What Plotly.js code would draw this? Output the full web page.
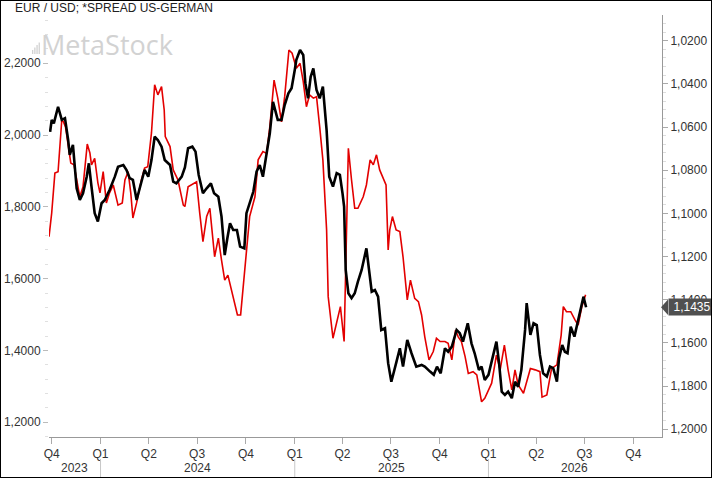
<!DOCTYPE html>
<html>
<head>
<meta charset="utf-8">
<script src="https://cdn.plot.ly/plotly-3.0.1.min.js"></script>
<style>
html,body{margin:0;padding:0;background:#fff;}
#wrap{position:relative;width:712px;height:478px;}
#chart{position:absolute;left:0;top:0;width:712px;height:478px;}
#frame{position:absolute;left:0;top:0;width:712px;height:478px;box-sizing:border-box;border:1px solid #000;pointer-events:none;}
</style>
</head>
<body>
<div id="wrap"><div id="chart"></div><div id="frame"></div></div>
<script>
// ---- DATA ----
const spreadDates = ["2023-09-26","2023-10-01","2023-10-07","2023-10-13","2023-10-20","2023-10-23","2023-10-27","2023-11-01","2023-11-06","2023-11-12","2023-11-17","2023-11-23","2023-11-29","2023-12-07","2023-12-12","2023-12-15","2023-12-21","2023-12-27","2023-12-31","2024-01-06","2024-01-12","2024-01-18","2024-01-25","2024-02-03","2024-02-11","2024-02-16","2024-02-22","2024-02-27","2024-03-02","2024-03-09","2024-03-18","2024-03-24","2024-03-30","2024-04-06","2024-04-12","2024-04-18","2024-04-25","2024-04-30","2024-05-02","2024-05-11","2024-05-17","2024-05-26","2024-06-05","2024-06-08","2024-06-14","2024-06-20","2024-06-30","2024-07-06","2024-07-12","2024-07-19","2024-07-25","2024-08-03","2024-08-10","2024-08-16","2024-08-22","2024-08-28","2024-09-07","2024-09-15","2024-09-21","2024-09-26","2024-10-02","2024-10-08","2024-10-18","2024-10-24","2024-11-02","2024-11-09","2024-11-15","2024-11-23","2024-11-30","2024-12-07","2024-12-13","2024-12-21","2024-12-27","2025-01-04","2025-01-11","2025-01-17","2025-01-23","2025-01-29","2025-02-05","2025-02-11","2025-02-17","2025-02-23","2025-03-02","2025-03-05","2025-03-14","2025-03-21","2025-03-28","2025-04-04","2025-04-07","2025-04-12","2025-04-18","2025-04-24","2025-04-30","2025-05-10","2025-05-16","2025-05-23","2025-05-29","2025-06-04","2025-06-10","2025-06-17","2025-06-22","2025-06-26","2025-06-29","2025-07-04","2025-07-11","2025-07-18","2025-07-24","2025-08-01","2025-08-07","2025-08-15","2025-08-22","2025-08-28","2025-09-03","2025-09-11","2025-09-19","2025-09-25","2025-10-02","2025-10-11","2025-10-17","2025-10-24","2025-10-31","2025-11-05","2025-11-11","2025-11-18","2025-11-24","2025-12-03","2025-12-10","2025-12-19","2025-12-25","2026-01-07","2026-01-16","2026-01-23","2026-01-31","2026-02-07","2026-02-14","2026-02-20","2026-02-26","2026-03-08","2026-03-21","2026-03-30","2026-04-08","2026-04-12","2026-04-21","2026-04-30","2026-05-10","2026-05-18","2026-05-22","2026-05-28","2026-06-05","2026-06-13","2026-06-19","2026-06-26","2026-07-03"];
const spreadValues = [1.717,1.783,1.894,1.898,2.042,2.037,2.023,1.978,1.922,1.917,1.875,1.828,1.856,1.975,1.950,1.917,1.935,1.867,1.839,1.898,1.811,1.839,1.861,1.805,1.811,1.875,1.898,1.839,1.769,1.811,1.875,1.908,1.912,2.006,2.140,2.112,2.135,2.070,1.996,1.968,1.903,1.875,1.805,1.801,1.856,1.861,1.870,1.782,1.703,1.773,1.796,1.661,1.713,1.652,1.596,1.610,1.550,1.499,1.499,1.578,1.689,1.773,1.828,1.931,1.954,1.949,2.023,2.153,2.103,2.037,2.107,2.237,2.228,2.186,2.200,2.149,2.079,2.112,2.103,2.107,2.023,1.931,1.736,1.550,1.434,1.480,1.522,1.425,1.644,1.963,1.875,1.796,1.796,1.828,1.861,1.931,1.917,1.945,1.903,1.880,1.861,1.680,1.736,1.773,1.736,1.731,1.661,1.541,1.596,1.545,1.536,1.499,1.438,1.374,1.397,1.434,1.425,1.425,1.420,1.374,1.457,1.438,1.425,1.383,1.336,1.341,1.332,1.257,1.267,1.309,1.387,1.346,1.415,1.346,1.290,1.346,1.304,1.281,1.350,1.346,1.341,1.270,1.276,1.350,1.360,1.443,1.522,1.508,1.508,1.485,1.471,1.522,1.555];

const eurusdDates = ["2023-09-28","2023-10-01","2023-10-05","2023-10-13","2023-10-20","2023-10-26","2023-11-01","2023-11-04","2023-11-10","2023-11-13","2023-11-17","2023-11-23","2023-11-29","2023-12-06","2023-12-10","2023-12-15","2023-12-21","2023-12-27","2024-01-03","2024-01-09","2024-01-18","2024-01-28","2024-02-03","2024-02-13","2024-02-19","2024-02-25","2024-03-02","2024-03-09","2024-03-18","2024-03-24","2024-03-31","2024-04-06","2024-04-12","2024-04-18","2024-04-25","2024-05-01","2024-05-11","2024-05-17","2024-05-23","2024-06-02","2024-06-08","2024-06-14","2024-06-22","2024-06-28","2024-07-04","2024-07-12","2024-07-19","2024-07-27","2024-08-02","2024-08-10","2024-08-16","2024-08-22","2024-08-27","2024-09-01","2024-09-07","2024-09-14","2024-09-20","2024-09-28","2024-10-02","2024-10-08","2024-10-15","2024-10-21","2024-10-27","2024-11-02","2024-11-09","2024-11-15","2024-11-21","2024-11-30","2024-12-07","2024-12-13","2024-12-20","2024-12-26","2025-01-01","2025-01-04","2025-01-11","2025-01-17","2025-01-21","2025-01-26","2025-01-31","2025-02-05","2025-02-11","2025-02-17","2025-02-23","2025-03-02","2025-03-07","2025-03-14","2025-03-21","2025-03-27","2025-04-01","2025-04-04","2025-04-07","2025-04-12","2025-04-18","2025-04-24","2025-04-30","2025-05-07","2025-05-16","2025-05-21","2025-05-26","2025-06-01","2025-06-07","2025-06-13","2025-06-20","2025-06-26","2025-07-02","2025-07-11","2025-07-18","2025-07-24","2025-08-01","2025-08-09","2025-08-18","2025-08-28","2025-09-03","2025-09-13","2025-09-20","2025-09-26","2025-10-03","2025-10-11","2025-10-17","2025-10-24","2025-11-02","2025-11-08","2025-11-14","2025-11-23","2025-11-30","2025-12-06","2025-12-14","2025-12-19","2025-12-25","2026-01-01","2026-01-08","2026-01-16","2026-01-21","2026-01-26","2026-02-01","2026-02-07","2026-02-14","2026-02-20","2026-02-26","2026-03-04","2026-03-11","2026-03-14","2026-03-21","2026-03-27","2026-04-02","2026-04-08","2026-04-14","2026-04-21","2026-04-27","2026-05-03","2026-05-10","2026-05-14","2026-05-20","2026-05-25","2026-05-30","2026-06-05","2026-06-12","2026-06-18","2026-06-26","2026-06-29","2026-07-04"];
const eurusdValues = [1.0622,1.0567,1.0583,1.0506,1.0567,1.0559,1.0660,1.0729,1.0683,1.0776,1.0884,1.0938,1.0907,1.0830,1.0768,1.0876,1.0999,1.1038,1.0953,1.0938,1.0892,1.0830,1.0784,1.0776,1.0799,1.0837,1.0845,1.0938,1.0861,1.0799,1.0830,1.0753,1.0645,1.0660,1.0691,1.0753,1.0776,1.0853,1.0861,1.0830,1.0787,1.0698,1.0691,1.0714,1.0822,1.0907,1.0884,1.0861,1.0907,1.0923,1.1015,1.1193,1.1115,1.1046,1.1077,1.1077,1.1154,1.1162,1.0999,1.0953,1.0899,1.0807,1.0776,1.0830,1.0729,1.0629,1.0483,1.0567,1.0567,1.0498,1.0444,1.0420,1.0336,1.0289,1.0243,1.0266,1.0397,1.0467,1.0367,1.0328,1.0428,1.0467,1.0413,1.0614,1.0830,1.0876,1.0814,1.0822,1.0907,1.0969,1.1262,1.1370,1.1393,1.1370,1.1316,1.1262,1.1162,1.1277,1.1363,1.1355,1.1386,1.1540,1.1532,1.1694,1.1780,1.1694,1.1625,1.1710,1.1586,1.1648,1.1710,1.1702,1.1710,1.1733,1.1748,1.1710,1.1741,1.1625,1.1641,1.1617,1.1540,1.1555,1.1594,1.1509,1.1602,1.1648,1.1725,1.1710,1.1772,1.1748,1.1671,1.1594,1.1694,1.1826,1.1841,1.1826,1.1856,1.1780,1.1803,1.1725,1.1540,1.1416,1.1563,1.1509,1.1517,1.1656,1.1741,1.1756,1.1710,1.1717,1.1780,1.1671,1.1610,1.1641,1.1648,1.1525,1.1571,1.1509,1.1416,1.1386,1.1435];

const quarterTicks = ["2023-10-01","2024-01-01","2024-04-01","2024-07-01","2024-10-01","2025-01-01","2025-04-01","2025-07-01","2025-10-01","2026-01-01","2026-04-01","2026-07-01","2026-10-01"];
const quarterLabels = ["Q4","Q1","Q2","Q3","Q4","Q1","Q2","Q3","Q4","Q1","Q2","Q3","Q4"];
const yearLabels = ["2023","2024","2025","2026"];
const yearStarts = ["2023-01-01","2024-01-01","2025-01-01","2026-01-01","2027-01-01"];
const titleText = "EUR / USD; *SPREAD US-GERMAN";
const lastLabel = "1,1435";

// ---- LAYOUT HELPERS ----
const W = 712, H = 478, L = 49, R = 662, T = 15, B = 437;
const PX = p => (p - L) / (R - L);
const PY = p => (B - p) / (B - T);
const xRange = ["2023-09-25 22:00", "2026-11-24"];
const FONT = "Arial, 'Liberation Sans', sans-serif";

const t0 = new Date(xRange[0].replace(" ", "T") + ":00Z").getTime();
const t1 = new Date(xRange[1] + "T00:00:00Z").getTime();
const ms = s => new Date(s + "T00:00:00Z").getTime();

const annotations = [];
const shapes = [];

// year labels centered on visible part of each year
yearLabels.forEach((yl, i) => {
  const a = Math.max(ms(yearStarts[i]), t0);
  const b = Math.min(ms(yearStarts[i + 1]), t1);
  const c = new Date((a + b) / 2).toISOString().slice(0, 10);
  annotations.push({x: c, xref: "x", y: PY(468), yref: "paper", text: yl, showarrow: false,
    xanchor: "center", yanchor: "middle", font: {family: FONT, size: 12, color: "#333"}});
});
// year separators
yearStarts.slice(1, 4).forEach(d => {
  shapes.push({type: "line", xref: "x", yref: "paper", x0: d, x1: d, y0: PY(459), y1: PY(478),
    line: {color: "#c8c8c8", width: 1}});
});

// watermark
annotations.push({x: PX(39), xref: "paper", y: PY(44), yref: "paper", text: "MetaStock", showarrow: false,
  xanchor: "left", yanchor: "middle", font: {family: "'Open Sans', sans-serif", size: 27, color: "#d2d2d2"}});
[[32, 50], [34.2, 47.5], [36.4, 45], [38.6, 42.5]].forEach(b => {
  shapes.push({type: "rect", xref: "paper", yref: "paper", x0: PX(b[0]), x1: PX(b[0] + 1.3),
    y0: PY(54), y1: PY(b[1]), fillcolor: "#d2d2d2", line: {width: 0}, layer: "below"});
});

// last value label on right axis
const lastVal = eurusdValues[eurusdValues.length - 1];
const halfH = 7.8 * (1.2036 - 1.0081) / (B - T);
annotations.push({x: 1, xref: "paper", xanchor: "left", xshift: 6, y: lastVal, yref: "y2", yanchor: "middle",
  text: lastLabel, showarrow: false, bgcolor: "#505050", borderpad: 1,
  font: {family: FONT, size: 12, color: "#fff"}, width: 44});
shapes.push({type: "path", xref: "paper", yref: "y2",
  path: `M ${PX(661)},${lastVal} L ${PX(668)},${lastVal - halfH} L ${PX(668)},${lastVal + halfH} Z`,
  fillcolor: "#505050", line: {width: 0}});

const traces = [
  {x: spreadDates, y: spreadValues, type: "scatter", mode: "lines", yaxis: "y",
   line: {color: "#e30000", width: 1.6}, hoverinfo: "skip"},
  {x: eurusdDates, y: eurusdValues, type: "scatter", mode: "lines", yaxis: "y2",
   line: {color: "#000", width: 2.6}, hoverinfo: "skip"}
];

const layout = {
  width: W, height: H,
  margin: {l: L, r: W - R, t: T, b: H - B, pad: 0},
  paper_bgcolor: "#fff", plot_bgcolor: "#fff",
  separators: ",.",
  showlegend: false,
  font: {family: FONT, size: 12, color: "#333"},
  title: {text: titleText, x: 15 / W, xref: "container", xanchor: "left",
    y: 1 - 8 / H, yref: "container", yanchor: "middle", pad: {t: 0, b: 0, l: 0, r: 0},
    font: {family: FONT, size: 12, color: "#222"}},
  xaxis: {type: "date", range: xRange, tickmode: "array", tickvals: quarterTicks, ticktext: quarterLabels,
    ticks: "outside", ticklen: 6, tickcolor: "#aaa", showline: true, linecolor: "#999", linewidth: 1,
    showgrid: false, zeroline: false, tickfont: {family: FONT, size: 12, color: "#333"}},
  yaxis: {range: [1.159, 2.3345], dtick: 0.2, tick0: 0, tickformat: ".4f", ticks: "outside", ticklen: 5,
    tickcolor: "#bbb", showline: false, showgrid: false, zeroline: false,
    minor: {dtick: 0.04, ticks: "outside", ticklen: 3, tickcolor: "#e0e0e0"},
    tickfont: {family: FONT, size: 12, color: "#333"}},
  yaxis2: {overlaying: "y", side: "right", range: [1.2036, 1.0081], dtick: 0.02, tick0: 1, tickformat: ".4f",
    ticks: "outside", ticklen: 5, tickcolor: "#aaa", showline: true, linecolor: "#999", linewidth: 1,
    showgrid: false, zeroline: false,
    minor: {dtick: 0.004, ticks: "outside", ticklen: 3, tickcolor: "#ddd"},
    tickfont: {family: FONT, size: 12, color: "#333"}},
  annotations: annotations,
  shapes: shapes
};

Plotly.newPlot("chart", traces, layout, {staticPlot: true, displayModeBar: false});
</script>
</body>
</html>
